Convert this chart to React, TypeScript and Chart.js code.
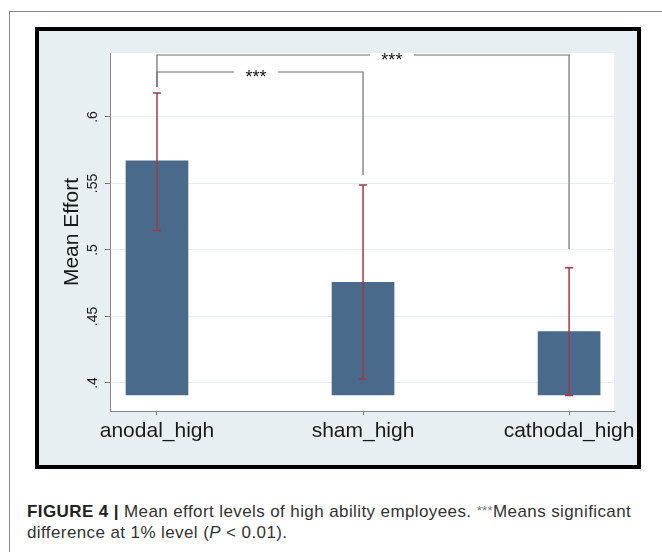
import React, { useEffect, useRef } from "react";
import { Chart, registerables } from "chart.js";

Chart.register(...registerables);

// ---- data ----
const categories = ["anodal_high", "sham_high", "cathodal_high"];
const meanEffort = [0.567, 0.4757, 0.4386];
const ciLow = [0.5147, 0.403, 0.3905];
const ciHigh = [0.618, 0.5489, 0.4867];
const barBase = 0.391;
const yTickValues = [0.4, 0.45, 0.5, 0.55, 0.6];
const yTickLabels = [".4", ".45", ".5", ".55", ".6"];
const yRange = [0.3789, 0.6481];
const xRange = [0.772, 3.218];
const bracketFrom = [1, 1];
const bracketTo = [2, 3];
const bracketLevel = [0.6338, 0.6466];
const bracketLeftEnd = [0.6226, 0.6226];
const bracketRightEnd = [0.5564, 0.5008];
const bracketLabelX = [1.48, 2.14];
const bracketLabels = ["***", "***"];

const FONT = "'Liberation Sans', Arial, Helvetica, sans-serif";
const xPositions = categories.map((_, i) => i + 1);

const plotBgPlugin = {
  id: "plotBg",
  beforeDraw(chart: any) {
    const { ctx, chartArea } = chart;
    ctx.save();
    ctx.fillStyle = "#ffffff";
    ctx.fillRect(chartArea.left, chartArea.top, chartArea.right - chartArea.left, chartArea.bottom - chartArea.top);
    ctx.restore();
  },
};

const errorBarPlugin = {
  id: "errorBars",
  afterDatasetsDraw(chart: any) {
    const { ctx, scales } = chart;
    const xs = scales.x;
    const ys = scales.y;
    ctx.save();
    ctx.strokeStyle = "#a23a44";
    ctx.lineWidth = 1.5;
    const cap = 4;
    xPositions.forEach((xv, i) => {
      const x = xs.getPixelForValue(xv);
      const yLo = ys.getPixelForValue(ciLow[i]);
      const yHi = ys.getPixelForValue(ciHigh[i]);
      ctx.beginPath();
      ctx.moveTo(x, yLo);
      ctx.lineTo(x, yHi);
      ctx.moveTo(x - cap, yLo);
      ctx.lineTo(x + cap, yLo);
      ctx.moveTo(x - cap, yHi);
      ctx.lineTo(x + cap, yHi);
      ctx.stroke();
    });
    ctx.restore();
  },
};

const bracketPlugin = {
  id: "brackets",
  afterDatasetsDraw(chart: any) {
    const { ctx, scales } = chart;
    const xs = scales.x;
    const ys = scales.y;
    const gap = 22;
    ctx.save();
    ctx.strokeStyle = "#6e6e6e";
    ctx.lineWidth = 1.2;
    ctx.fillStyle = "#111111";
    ctx.font = `18px ${FONT}`;
    ctx.textAlign = "center";
    ctx.textBaseline = "alphabetic";
    bracketLabels.forEach((lab, i) => {
      const x1 = xs.getPixelForValue(bracketFrom[i]);
      const x2 = xs.getPixelForValue(bracketTo[i]);
      const y = ys.getPixelForValue(bracketLevel[i]);
      const yL = ys.getPixelForValue(bracketLeftEnd[i]);
      const yR = ys.getPixelForValue(bracketRightEnd[i]);
      const tx = xs.getPixelForValue(bracketLabelX[i]);
      ctx.beginPath();
      ctx.moveTo(x1, yL);
      ctx.lineTo(x1, y);
      ctx.lineTo(tx - gap, y);
      ctx.moveTo(tx + gap, y);
      ctx.lineTo(x2, y);
      ctx.lineTo(x2, yR);
      ctx.stroke();
      ctx.fillText(lab, tx, y + 11);
    });
    ctx.restore();
  },
};

function FigureChart() {
  const ref = useRef<HTMLCanvasElement | null>(null);
  useEffect(() => {
    if (!ref.current) return;
    const chart = new Chart(ref.current, {
      type: "bar",
      data: {
        datasets: [
          {
            data: xPositions.map((x, i) => ({ x, y: meanEffort[i] })),
            base: barBase,
            backgroundColor: "#4a6a8c",
            borderWidth: 0,
            barThickness: 62,
          } as any,
        ],
      },
      options: {
        animation: false,
        responsive: false,
        maintainAspectRatio: false,
        devicePixelRatio: 1,
        layout: { padding: { left: 0, top: 22, right: 23, bottom: 0 } },
        plugins: { legend: { display: false }, tooltip: { enabled: false } },
        scales: {
          x: {
            type: "linear",
            min: xRange[0],
            max: xRange[1],
            offset: false,
            afterBuildTicks: (s: any) => {
              s.ticks = xPositions.map((v) => ({ value: v }));
            },
            afterFit: (s: any) => {
              s.height = 54;
              s.paddingLeft = 0;
              s.paddingRight = 0;
            },
            ticks: {
              autoSkip: false,
              maxRotation: 0,
              minRotation: 0,
              padding: 4,
              color: "#1a1a1a",
              font: { family: FONT, size: 21 },
              callback: (v: any) => categories[Math.round(Number(v)) - 1] ?? "",
            },
            grid: {
              offset: false,
              drawOnChartArea: false,
              drawTicks: true,
              tickLength: 4,
              tickColor: "#7a7a7a",
            },
            border: { display: true, color: "#8a8a8a", width: 1 },
          },
          y: {
            type: "linear",
            position: "left",
            min: yRange[0],
            max: yRange[1],
            afterBuildTicks: (s: any) => {
              s.ticks = yTickValues.map((v) => ({ value: v }));
            },
            afterFit: (s: any) => {
              s.width = 71;
              s.paddingTop = 0;
              s.paddingBottom = 0;
            },
            ticks: {
              autoSkip: false,
              minRotation: 90,
              maxRotation: 90,
              crossAlign: "center",
              padding: 2,
              color: "#1a1a1a",
              font: { family: FONT, size: 14 },
              callback: (v: any) => {
                const idx = yTickValues.findIndex((t) => Math.abs(t - Number(v)) < 1e-9);
                return idx >= 0 ? yTickLabels[idx] : "";
              },
            },
            grid: {
              color: "#e7eff2",
              lineWidth: 1,
              drawTicks: true,
              tickLength: 5,
              tickColor: "#7a7a7a",
            },
            border: { display: true, color: "#8a8a8a", width: 1 },
            title: {
              display: true,
              text: "Mean Effort",
              color: "#1a1a1a",
              font: { family: FONT, size: 21 },
              padding: { top: 21, bottom: 0 },
            },
          },
        },
      } as any,
      plugins: [plotBgPlugin, errorBarPlugin, bracketPlugin],
    });
    return () => chart.destroy();
  }, []);
  return <canvas ref={ref} width={598} height={434} style={{ display: "block", width: 598, height: 434 }} />;
}

export default function App() {
  return (
    <div
      style={{
        position: "fixed",
        left: 0,
        top: 0,
        width: 662,
        height: 552,
        background: "#ffffff",
        overflow: "hidden",
        fontFamily: FONT,
      }}
    >
      <div
        style={{
          position: "absolute",
          left: 9,
          top: 11,
          width: 700,
          height: 600,
          borderLeft: "1px solid #8a8a8a",
          borderTop: "1px solid #8a8a8a",
        }}
      />
      <div
        style={{
          position: "absolute",
          left: 35,
          top: 27,
          width: 606,
          height: 442,
          boxSizing: "border-box",
          border: "4px solid #000000",
          background: "#e8eff2",
        }}
      >
        <FigureChart />
      </div>
      <div
        style={{
          position: "absolute",
          left: 27,
          top: 500,
          width: 634,
          fontSize: 17,
          letterSpacing: "0.4px",
          lineHeight: "21px",
          color: "#333333",
          whiteSpace: "nowrap",
        }}
      >
        <span style={{ fontWeight: "bold", color: "#222" }}>FIGURE 4 |</span> Mean effort levels of high ability
        employees. <span style={{ color: "#777", fontSize: 13, verticalAlign: "2px" }}>***</span>Means significant
        <br />
        difference at 1% level (<i>P</i> &lt; 0.01).
      </div>
    </div>
  );
}
